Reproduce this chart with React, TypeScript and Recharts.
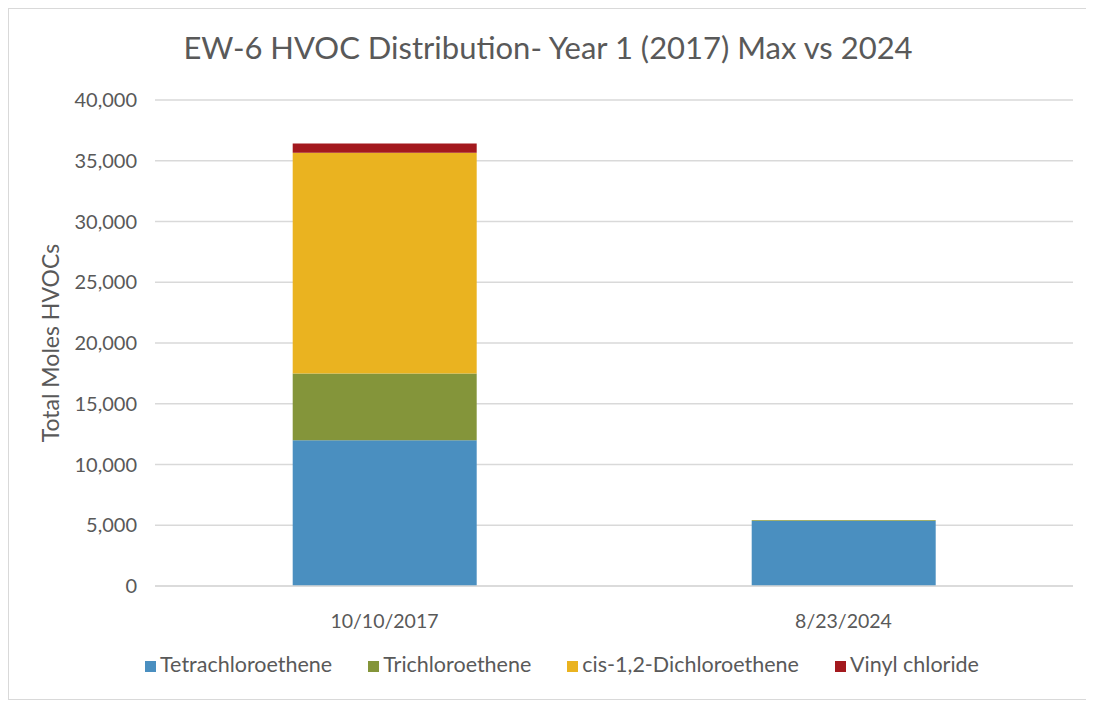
import React from 'react';
import { BarChart, Bar, XAxis, YAxis, CartesianGrid, Legend } from 'recharts';

const categories = ['10/10/2017', '8/23/2024'];
const tetrachloroethene = [12000, 5350];
const trichloroethene = [5500, 60];
const cisDichloroethene = [18150, 0];
const vinylChloride = [780, 0];
const yTicks = [0, 5000, 10000, 15000, 20000, 25000, 30000, 35000, 40000];

const data = categories.map((c, i) => ({
  date: c,
  tetra: tetrachloroethene[i],
  tri: trichloroethene[i],
  cis: cisDichloroethene[i],
  vinyl: vinylChloride[i],
}));

const FONT = 'Lato, "Open Sans", sans-serif';
const TEXT = '#595959';

export default function App() {
  return (
    <div style={{ position: 'relative', width: 1078, height: 690, border: '1px solid #d9d9d9', background: '#fff', fontFamily: FONT }}>
      <div style={{ position: 'absolute', top: 19, left: 0, width: 1078, textAlign: 'center', fontSize: 31, color: TEXT, fontFamily: FONT }}>
        EW-6 HVOC Distribution- Year 1 (2017) Max vs 2024
      </div>
      <BarChart
        width={1078}
        height={690}
        data={data}
        margin={{ top: 91, right: 14, left: 20, bottom: 22 }}
        barCategoryGap="30%"
      >
        <CartesianGrid vertical={false} stroke="#d9d9d9" strokeWidth={1.3} />
        <XAxis
          dataKey="date"
          axisLine={{ stroke: '#d9d9d9', strokeWidth: 1.3 }}
          tickLine={false}
          tickMargin={22}
          tick={{ fill: TEXT, fontSize: 19.5, fontFamily: FONT }}
          height={65}
        />
        <YAxis
          domain={[0, 40000]}
          ticks={yTicks}
          width={126}
          axisLine={false}
          tickLine={false}
          tickSize={0}
          tickMargin={18}
          tickFormatter={(v: number) => v.toLocaleString('en-US')}
          tick={{ fill: TEXT, fontSize: 20, fontFamily: FONT }}
          label={{ value: 'Total Moles HVOCs', angle: -90, position: 'insideLeft', offset: 22, style: { fill: TEXT, fontSize: 23, fontFamily: FONT, textAnchor: 'middle' } }}
        />
        <Legend
          verticalAlign="bottom"
          iconType="square"
          iconSize={11}
          itemSorter={null as any}
          wrapperStyle={{ fontSize: 21.5, fontFamily: FONT, color: TEXT, paddingTop: 0, paddingLeft: 16 }}
          formatter={(value: string, _entry: any, index: number) => (
            <span style={{ color: TEXT, marginRight: index < 3 ? 26 : 0 }}>{value}</span>
          )}
        />
        <Bar dataKey="tetra" name="Tetrachloroethene" stackId="a" fill="#4A8FC0" isAnimationActive={false} />
        <Bar dataKey="tri" name="Trichloroethene" stackId="a" fill="#84953A" isAnimationActive={false} />
        <Bar dataKey="cis" name="cis-1,2-Dichloroethene" stackId="a" fill="#EAB320" isAnimationActive={false} />
        <Bar dataKey="vinyl" name="Vinyl chloride" stackId="a" fill="#A3191E" isAnimationActive={false} />
      </BarChart>
    </div>
  );
}
